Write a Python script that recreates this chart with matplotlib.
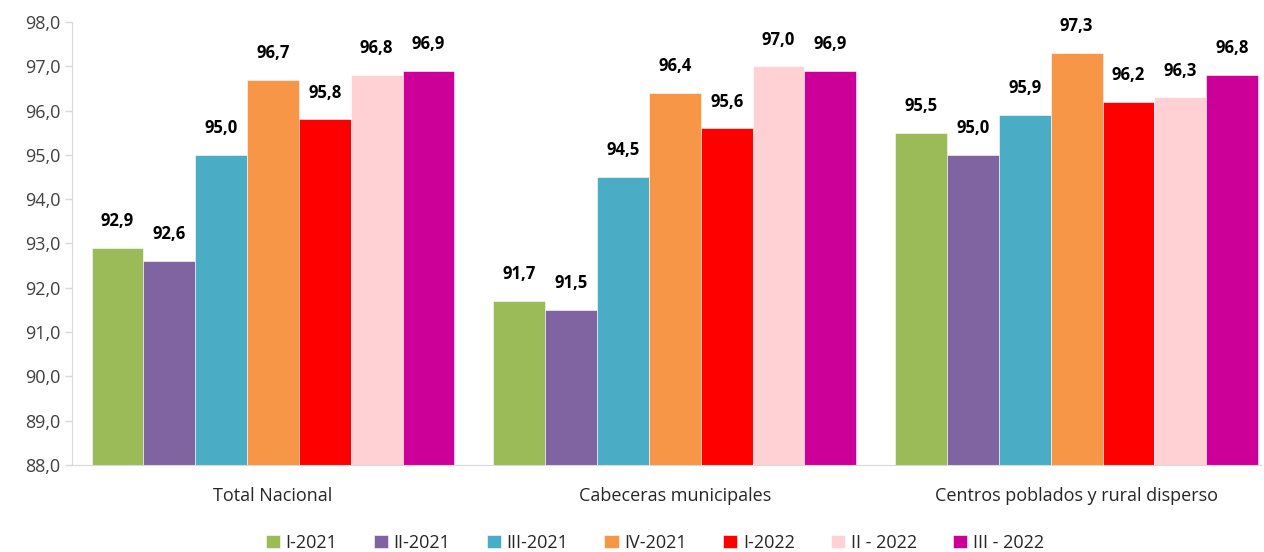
import numpy as np
import matplotlib.pyplot as plt

plt.rcParams['font.family'] = ['Open Sans', 'DejaVu Sans']

categories = ['Total Nacional', 'Cabeceras municipales', 'Centros poblados y rural disperso']
series = ['I-2021', 'II-2021', 'III-2021', 'IV-2021', 'I-2022', 'II - 2022', 'III - 2022']
values = [
    [92.9, 91.7, 95.5],
    [92.6, 91.5, 95.0],
    [95.0, 94.5, 95.9],
    [96.7, 96.4, 97.3],
    [95.8, 95.6, 96.2],
    [96.8, 97.0, 96.3],
    [96.9, 96.9, 96.8],
]
colors = ['#9BBB59', '#8064A2', '#4BACC6', '#F79646', '#FF0000', '#FFD1D5', '#CC0099']

fig = plt.figure(figsize=(12.64, 5.52), dpi=100)
ax = fig.add_axes([0.057, 0.158, 0.941, 0.802])

x = np.arange(len(categories))
n = len(series)
w = 0.129
for i in range(n):
    pos = x + (i - (n - 1) / 2) * w
    ax.bar(pos, values[i], w, bottom=0, color=colors[i], label=series[i],
           edgecolor='white', linewidth=0.4)
    for p, v in zip(pos, values[i]):
        ax.text(p, v + 0.4, f'{v:.1f}'.replace('.', ','), ha='center', va='bottom',
                fontsize=12, fontweight='bold', color='black')

ax.set_ylim(88, 98)
ax.set_xlim(-0.5, 2.46)
ax.set_yticks(np.arange(88, 98.1, 1))
ax.set_yticklabels([f'{t:.1f}'.replace('.', ',') for t in np.arange(88, 98.1, 1)])
ax.set_xticks(x)
ax.set_xticklabels(categories)
ax.tick_params(axis='y', labelsize=13, colors='#D9D9D9', labelcolor='#404040', length=5, width=1)
ax.tick_params(axis='x', labelsize=13, labelcolor='#262626', length=0, pad=16)
for s in ['top', 'right']:
    ax.spines[s].set_visible(False)
ax.spines['left'].set_color('#D9D9D9')
ax.spines['bottom'].set_color('#D9D9D9')

ax.legend(loc='center', bbox_to_anchor=(0.49, -0.176), ncol=7, frameon=False,
          fontsize=13, handlelength=0.8, handleheight=0.8, handletextpad=0.3,
          columnspacing=2.0, labelcolor='#262626')

fig.savefig('out.png', dpi=100)
